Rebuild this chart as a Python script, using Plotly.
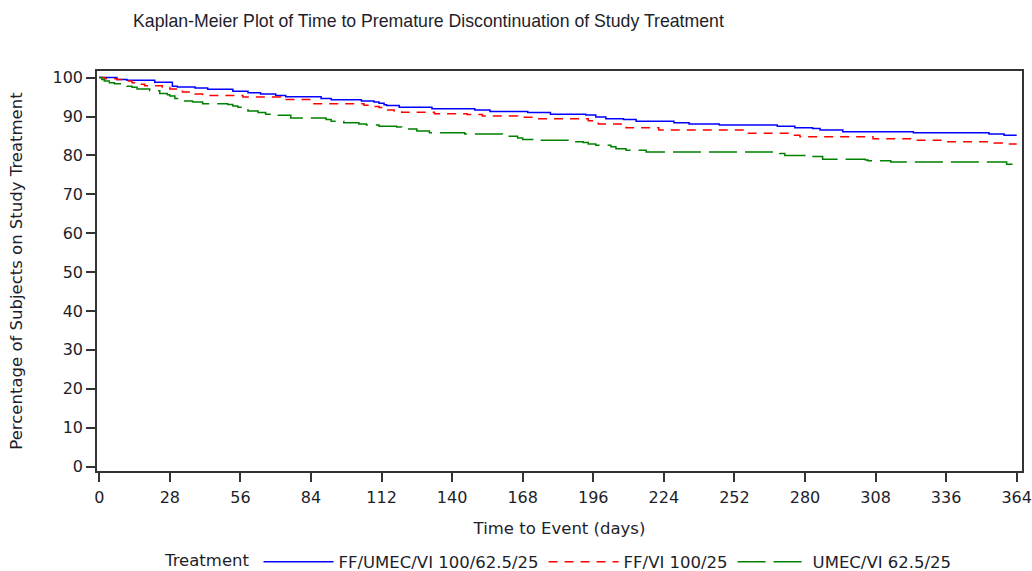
import plotly.graph_objects as go

# ---- data ----
x_ticks = [0, 28, 56, 84, 112, 140, 168, 196, 224, 252, 280, 308, 336, 364]
y_ticks = [0, 10, 20, 30, 40, 50, 60, 70, 80, 90, 100]

trt_names = ["FF/UMEC/VI 100/62.5/25", "FF/VI 100/25", "UMEC/VI 62.5/25"]

blue_days = [0, 7, 11, 22, 29, 31, 38, 43, 53, 59, 64, 70, 74, 88, 92, 104, 109, 111, 113, 114,
             119, 132, 149, 155, 170, 179, 193, 197, 201, 208, 213, 228, 234, 246, 269, 276, 283,
             286, 295, 323, 353, 359, 364]
blue_surv = [100, 99.5, 99.3, 98.8, 97.8, 97.6, 97.3, 97.0, 96.5, 96.1, 95.8, 95.4, 95.1, 94.6,
             94.3, 94.0, 93.7, 93.4, 93.0, 92.8, 92.4, 92.0, 91.7, 91.3, 91.0, 90.6, 90.4, 89.9,
             89.4, 89.2, 88.8, 88.4, 88.1, 87.8, 87.5, 87.1, 86.9, 86.5, 86.1, 85.8, 85.5, 85.2, 85.2]

red_days = [0, 2, 7, 11, 13, 15, 18, 25, 28, 31, 33, 38, 41, 57, 72, 84, 105, 107, 111, 113, 117,
            120, 133, 146, 152, 166, 174, 194, 198, 207, 209, 222, 256, 275, 278, 307, 323, 336,
            355, 359, 364]
red_surv = [100, 99.7, 99.5, 99.1, 98.7, 98.3, 97.9, 97.5, 97.1, 96.5, 96.3, 95.8, 95.4, 95.0,
            94.4, 93.3, 92.9, 92.6, 92.3, 91.7, 91.4, 91.1, 90.7, 90.5, 90.1, 89.8, 89.4, 88.9,
            88.1, 87.5, 87.1, 86.5, 85.7, 85.2, 84.8, 84.3, 83.9, 83.5, 83.2, 82.9, 82.9]

green_days = [0, 1, 2, 4, 6, 11, 13, 15, 20, 24, 27, 28, 30, 33, 37, 41, 51, 53, 55, 57, 59, 63,
              66, 71, 76, 90, 92, 97, 103, 106, 111, 118, 120, 122, 126, 131, 145, 160, 162, 166,
              168, 174, 187, 192, 194, 197, 203, 205, 209, 217, 270, 272, 281, 287, 304, 305, 314,
              360, 364]
green_surv = [100, 99.5, 99.1, 98.7, 98.4, 97.8, 97.5, 97.1, 96.6, 95.9, 95.6, 95.3, 94.6, 94.0,
              93.7, 93.3, 93.1, 92.7, 92.4, 92.0, 91.4, 91.0, 90.6, 90.3, 89.6, 89.2, 88.8, 88.4,
              88.1, 87.8, 87.5, 87.3, 87.0, 86.8, 86.3, 85.8, 85.5, 85.2, 84.9, 84.5, 84.1, 83.9,
              83.5, 83.3, 82.9, 82.6, 82.2, 81.7, 81.3, 80.9, 80.5, 80.0, 79.7, 79.0, 78.8, 78.6,
              78.3, 77.7, 77.7]

# ---- styling ----
TXT = "#1e1e2a"
AX = "#333333"
FONT = "DejaVu Sans"

fig = go.Figure()
series = [
    (blue_days, blue_surv, "#0000FF", "solid"),
    (red_days, red_surv, "#FF0000", "9px,7px"),
    (green_days, green_surv, "#008000", "28px,8px"),
]
for name, (d, s, col, dash) in zip(trt_names, series):
    fig.add_trace(go.Scatter(
        x=d, y=s, mode="lines", name=name,
        line=dict(color=col, width=1.5, dash=dash, shape="hv"),
    ))

axis_common = dict(
    showline=True, mirror=True, linecolor=AX, linewidth=1.5,
    ticks="outside", ticklen=9, tickwidth=1.5, tickcolor=AX,
    showgrid=False, zeroline=False, automargin=False,
    tickfont=dict(family=FONT, size=16, color=TXT),
)

fig.update_layout(
    width=1032, height=571, autosize=False,
    margin=dict(l=97, r=10, t=71, b=100),
    plot_bgcolor="white", paper_bgcolor="white",
    title=dict(
        text="Kaplan-Meier Plot of Time to Premature Discontinuation of Study Treatment",
        xref="container", x=133 / 1032, xanchor="left",
        yref="container", y=1 - 21 / 571, yanchor="middle",
        font=dict(family="Liberation Sans Narrow, Arial Narrow, Liberation Sans", size=17.7, color=TXT),
    ),
    xaxis=dict(
        range=[-0.9, 366.1], tickvals=x_ticks, ticktext=[str(v) for v in x_ticks],
        ticklabelstandoff=2,
        title=dict(text="Time to Event (days)", font=dict(family=FONT, size=16.5, color=TXT), standoff=16),
        **axis_common,
    ),
    yaxis=dict(
        range=[-1.15, 101.7], tickvals=y_ticks, ticktext=[str(v) for v in y_ticks],
        ticklabelstandoff=0,
        title=dict(text="Percentage of Subjects on Study Treatment",
                   font=dict(family=FONT, size=16.5, color=TXT), standoff=26),
        **axis_common,
    ),
    legend=dict(
        orientation="h", xref="container", x=163 / 1032, xanchor="left",
        yref="container", y=1 - 562 / 571, yanchor="middle",
        title=dict(text="Treatment", side="left", font=dict(family=FONT, size=16.5, color=TXT)),
        font=dict(family=FONT, size=16.5, color=TXT),
        itemwidth=70, bgcolor="rgba(0,0,0,0)",
    ),
)

# remove the browser's default 8px page margin so the figure sits at the window origin
fig.write_html("out.html", config={"displayModeBar": False},
               post_script="document.body.style.margin='0';")
